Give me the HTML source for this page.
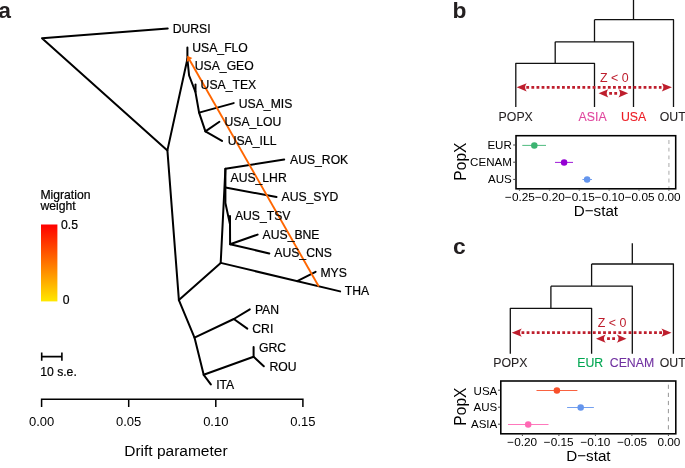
<!DOCTYPE html>
<html><head><meta charset="utf-8">
<style>
html,body{margin:0;padding:0;background:#fff;}
body{width:685px;height:468px;overflow:hidden;}
svg{display:block;will-change:transform;font-family:"Liberation Sans",sans-serif;}
.t{stroke:#000;stroke-width:2;fill:none;stroke-linecap:round;stroke-linejoin:round;}
.l{font-size:12.2px;fill:#000;stroke:#000;stroke-width:0.2px;}
.d{stroke:#111;stroke-width:1.3;fill:none;stroke-linecap:butt;stroke-linejoin:round;}
.p{font-size:12.3px;stroke-width:0.1px;}
.yl{font-size:11.55px;fill:#000;}
.xl{font-size:11.8px;fill:#000;}
.ti{font-size:15.2px;fill:#000;}
.tp{font-size:15.6px;fill:#000;}
</style></head><body>
<svg width="685" height="468" viewBox="0 0 685 468">
<rect width="685" height="468" fill="#fff"/>
<!-- PANEL A -->
<text x="-1.8" y="17.5" font-size="22.8" font-weight="bold" fill="#231f20">a</text>
<g class="t">
<path d="M167.7 28.4 L42 38.2 L167.4 150.4 L178.9 300.1 L194.5 337.6 L203.7 374.8 L210.8 384.4"/>
<path d="M167.4 150.4 L187.4 59 L187.4 47.6"/>
<path d="M187.4 59 L189.1 75.5 L195.4 91.8 L199.1 112.6 L205.4 131.4 L222.0 140.9"/>
<path d="M195.5 91.8 L195.5 84.6"/>
<path d="M199.1 112.6 L233.7 103.1"/>
<path d="M205.4 131.4 L219.4 121.8"/>
<path d="M178.9 300.1 L220.7 262.9 L340.1 291.4"/>
<path d="M297.2 281.1 L315.6 271.8"/>
<path d="M220.7 262.9 L225.4 168.7 L284.2 159.6"/>
<path d="M225.4 168.7 L225.4 203 L230 224.4 L230.1 244.2 L257.6 234.6"/>
<path d="M225.4 187.5 L276.5 197"/>
<path d="M230 224.4 L230 215.9"/>
<path d="M230.1 244.2 L269.3 253.5"/>
<path d="M194.5 337.6 L233.8 319 L249.8 309.4"/>
<path d="M233.8 319 L247.3 328.6"/>
<path d="M203.7 374.8 L253.6 356.8 L253.6 347.1"/>
<path d="M253.6 356.8 L263.8 366.2"/>
</g>
<!-- migration edge -->
<path d="M318.8 286.5 L188.6 58.2" stroke="#ff6600" stroke-width="1.9" fill="none"/>
<path d="M187.3 55.8 L192.3 58.1 L186.8 62 Z" fill="#ff6600"/>
<g class="l">
<text x="172.7" y="33.2">DURSI</text>
<text x="192.3" y="51.6">USA_FLO</text>
<text x="194.8" y="70.2">USA_GEO</text>
<text x="200.6" y="88.9">USA_TEX</text>
<text x="238.8" y="107.6">USA_MIS</text>
<text x="224.5" y="126.3">USA_LOU</text>
<text x="227.7" y="145">USA_ILL</text>
<text x="290.0" y="163.7">AUS_ROK</text>
<text x="230.5" y="182.4">AUS_LHR</text>
<text x="281.5" y="201.1">AUS_SYD</text>
<text x="234.9" y="219.8">AUS_TSV</text>
<text x="262.6" y="238.5">AUS_BNE</text>
<text x="274.3" y="257.2">AUS_CNS</text>
<text x="320.4" y="276.6">MYS</text>
<text x="344.8" y="294.8">THA</text>
<text x="254.9" y="314.1">PAN</text>
<text x="252.3" y="333">CRI</text>
<text x="259.0" y="351.5">GRC</text>
<text x="269.5" y="370.7">ROU</text>
<text x="216.2" y="389">ITA</text>
</g>
<!-- legend -->
<defs><linearGradient id="mg" x1="0" y1="0" x2="0" y2="1"><stop offset="0" stop-color="#ff0000"/><stop offset="1" stop-color="#ffe800"/></linearGradient></defs>
<text class="l" x="40.4" y="199">Migration</text>
<text class="l" x="40.4" y="209.8">weight</text>
<rect x="41" y="224.5" width="16.4" height="76.9" fill="url(#mg)"/>
<text class="l" x="61" y="229.3">0.5</text>
<text class="l" x="62.8" y="304.3">0</text>
<!-- scale bar -->
<path d="M41.7 356.6 H61.9 M41.7 352.4 V360.8 M61.9 352.4 V360.8" stroke="#000" stroke-width="1.6" fill="none"/>
<text class="l" x="40.2" y="375.6">10 s.e.</text>
<!-- axis -->
<path d="M41.6 406.9 V399.2 H302.9 V406.9 M128.7 399.2 V406.9 M215.8 399.2 V406.9" stroke="#000" stroke-width="1.5" fill="none"/>
<g font-size="13" fill="#000" text-anchor="middle">
<text x="41.6" y="425.9">0.00</text><text x="128.7" y="425.9">0.05</text><text x="215.8" y="425.9">0.10</text><text x="302.9" y="425.9">0.15</text>
</g>
<text x="175.9" y="455.8" font-size="15.5" fill="#000" text-anchor="middle">Drift parameter</text>

<!-- PANEL B -->
<text x="452.5" y="17.5" font-size="22.8" font-weight="bold" fill="#231f20">b</text>
<g class="d">
<path d="M633.5 0 V19.7 M594.5 19.7 H673.5 V106.9 M594.5 19.7 V41.8 M555.2 41.8 H633.5 V106.9 M555.2 41.8 V63.3 M515.8 106.9 V63.3 H594.5 V106.9"/>
</g>
<g class="p">
<text x="515.7" y="120.5" text-anchor="middle" fill="#231f20" stroke="#231f20">POPX</text>
<text x="592.6" y="120.5" text-anchor="middle" fill="#e0479e" stroke="#e0479e">ASIA</text>
<text x="633.6" y="120.5" text-anchor="middle" fill="#ed1c24" stroke="#ed1c24">USA</text>
<text x="659.8" y="120.5" fill="#231f20" stroke="#231f20">OUT</text>
</g>
<text x="614.3" y="81.7" font-size="12.4" text-anchor="middle" fill="#be1e2d">Z &lt; 0</text>
<g stroke="#be1e2d" stroke-width="2.7" stroke-dasharray="2.8 2.3" fill="none">
<path d="M526.3 87.3 H661.5"/><path d="M609.2 93.3 H617.2"/>
</g>
<g fill="#be1e2d">
<path d="M516.6 87.3 L526.7 83.2 Q523.3 87.3 526.7 91.4 Z"/>
<path d="M671.9 87.3 L661.8 83.2 Q665.2 87.3 661.8 91.4 Z"/>
<path d="M598.6 93.3 L608.3 89.2 Q604.9 93.3 608.3 97.4 Z"/>
<path d="M628.2 93.3 L618.5 89.2 Q621.9 93.3 618.5 97.4 Z"/>
</g>
<!-- dstat b -->
<rect x="516" y="135.7" width="159.7" height="53.1" fill="#fff" stroke="#000" stroke-width="1.55"/>
<path d="M668.9 140 V188" stroke="#b8b8b8" stroke-width="1.2" stroke-dasharray="3.9 3.8"/>
<path d="M513.2 145 H515.3 M513.2 162.2 H515.3 M513.2 179.4 H515.3 M519.4 189.5 V190.8 M549.3 189.5 V190.8 M579.2 189.5 V190.8 M609.1 189.5 V190.8 M639 189.5 V190.8 M668.9 189.5 V190.8" stroke="#444" stroke-width="1"/>
<g stroke-width="0.9">
<path d="M522.3 145.4 H546" stroke="#3cb371"/><path d="M555 162.4 H573" stroke="#9400d3"/><path d="M582.4 179.5 H592" stroke="#6495ed"/>
</g>
<circle cx="534.3" cy="145.4" r="3.25" fill="#3cb371"/><circle cx="564.1" cy="162.4" r="3.25" fill="#9400d3"/><circle cx="587.1" cy="179.5" r="3.25" fill="#6495ed"/>
<g class="yl" text-anchor="end">
<text x="511.8" y="149.1">EUR</text><text x="511.8" y="166.3">CENAM</text><text x="511.8" y="183.4">AUS</text>
</g>
<g class="xl" text-anchor="middle">
<text x="520" y="200.5">−0.25</text><text x="549.9" y="200.5">−0.20</text><text x="579.8" y="200.5">−0.15</text><text x="609.7" y="200.5">−0.10</text><text x="639.6" y="200.5">−0.05</text><text x="669.2" y="200.5">0.00</text>
</g>
<text x="595.9" y="215.8" class="ti" text-anchor="middle">D−stat</text>
<text transform="translate(465.9 161.6) rotate(-90)" class="tp" text-anchor="middle">PopX</text>

<!-- PANEL C -->
<text x="453.1" y="254.2" font-size="22.8" font-weight="bold" fill="#231f20">c</text>
<g class="d">
<path d="M632.3 243.2 V264 M591.6 264 H673.4 V353.8 M591.6 264 V286.2 M550.9 286.2 H632.3 V353.8 M550.9 286.2 V308.3 M510.3 353.8 V308.3 H591.6 V353.8"/>
</g>
<g class="p">
<text x="510.3" y="366.5" text-anchor="middle" fill="#231f20" stroke="#231f20">POPX</text>
<text x="590.2" y="366.5" text-anchor="middle" fill="#00a651" stroke="#00a651">EUR</text>
<text x="632" y="366.5" text-anchor="middle" fill="#7030a0" stroke="#7030a0">CENAM</text>
<text x="659.8" y="366.5" fill="#231f20" stroke="#231f20">OUT</text>
</g>
<text x="612" y="326.7" font-size="12.4" text-anchor="middle" fill="#be1e2d">Z &lt; 0</text>
<g stroke="#be1e2d" stroke-width="2.7" stroke-dasharray="2.8 2.3" fill="none">
<path d="M521.5 332.7 H662.2"/><path d="M607.1 338.7 H615.2"/>
</g>
<g fill="#be1e2d">
<path d="M511.7 332.7 L521.8 328.6 Q518.4 332.7 521.8 336.8 Z"/>
<path d="M671.5 332.7 L661.4 328.6 Q664.8 332.7 661.4 336.8 Z"/>
<path d="M596.0 338.7 L605.7 334.6 Q602.3 338.7 605.7 342.8 Z"/>
<path d="M626.5 338.7 L616.8 334.6 Q620.2 338.7 616.8 342.8 Z"/>
</g>
<!-- dstat c -->
<rect x="500.8" y="381" width="175" height="52.8" fill="#fff" stroke="#000" stroke-width="1.55"/>
<path d="M668.4 384.7 V433" stroke="#8a8a8a" stroke-width="0.9" stroke-dasharray="4.2 3.9"/>
<path d="M498 390.2 H500.1 M498 407.2 H500.1 M498 424.2 H500.1 M522.4 434.5 V436 M558.9 434.5 V436 M595.4 434.5 V436 M631.9 434.5 V436 M668.4 434.5 V436" stroke="#444" stroke-width="1"/>
<g stroke-width="0.9">
<path d="M536.5 390.5 H577.4" stroke="#f8502a"/><path d="M567.1 407.5 H593.9" stroke="#6495ed"/><path d="M508 424.5 H548.5" stroke="#ff69b4"/>
</g>
<circle cx="556.9" cy="390.5" r="3.25" fill="#f8502a"/><circle cx="580.7" cy="407.5" r="3.25" fill="#6495ed"/><circle cx="528.2" cy="424.5" r="3.25" fill="#ff69b4"/>
<g class="yl" text-anchor="end">
<text x="497.3" y="394.5">USA</text><text x="497.3" y="411.4">AUS</text><text x="497.3" y="428.3">ASIA</text>
</g>
<g class="xl" text-anchor="middle">
<text x="522.2" y="445.8">−0.20</text><text x="558.7" y="445.8">−0.15</text><text x="595.4" y="445.8">−0.10</text><text x="632.1" y="445.8">−0.05</text><text x="668.9" y="445.8">0.00</text>
</g>
<text x="588.4" y="461.4" class="ti" text-anchor="middle">D−stat</text>
<text transform="translate(465.9 406.6) rotate(-90)" class="tp" text-anchor="middle">PopX</text>
</svg>
</body></html>
